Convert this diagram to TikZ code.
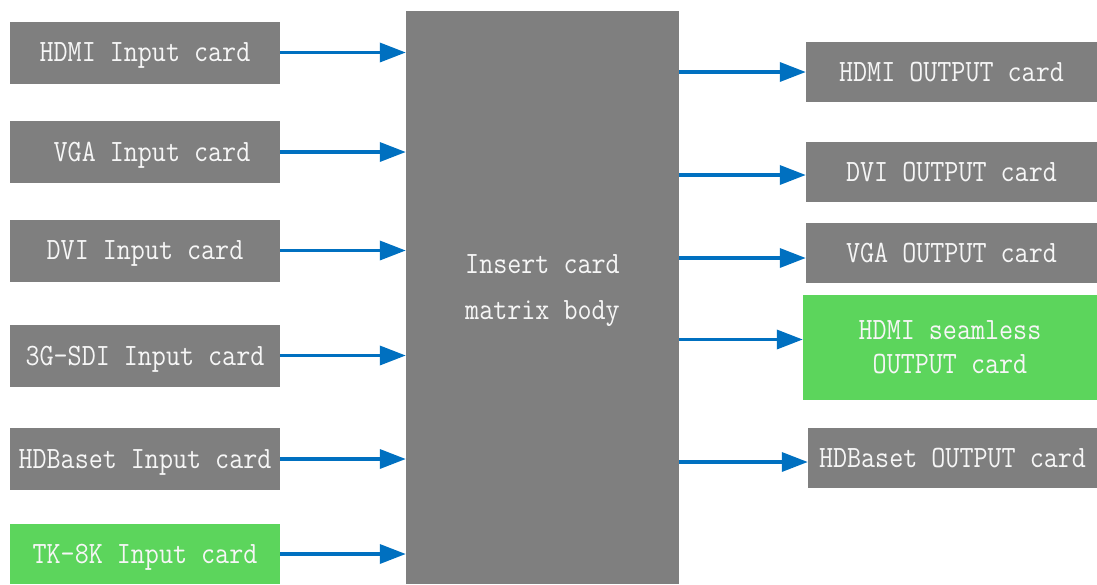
\documentclass[tikz,border=0pt]{standalone}
\usepackage{fontspec}
\newfontfamily\cardfont{Latin Modern Mono}[FakeStretch=0.88]
\usepackage{xcolor}
\definecolor{cardgray}{HTML}{7F7F7F}
\definecolor{cardgreen}{HTML}{5CD55C}
\definecolor{flowblue}{HTML}{0070C0}
\definecolor{cardtext}{HTML}{F6F6F6}
\usetikzlibrary{positioning,arrows.meta}
\tikzset{
  >={Triangle[length=26pt,width=19pt]},
  card/.style={fill=cardgray,text=cardtext,inner sep=0pt,align=center,text depth=0pt,
    font=\cardfont\fontsize{31}{34}\selectfont},
  incard/.style={card,minimum width=270,minimum height=62},
  outcard/.style={card,minimum width=291,minimum height=60},
  newcard/.style={fill=cardgreen},
  flow/.style={->,draw=flowblue,line width=3.5pt},
}

\begin{document}
\begin{tikzpicture}[x=1pt,y=-1pt]
  \useasboundingbox (0,0) rectangle (1097,584);
  % matrix body
  \node[card,minimum width=273,minimum height=573,
    label={[card,fill=none,font=\cardfont\fontsize{31}{46}\selectfont,yshift=10pt]center:Insert card\\matrix body}] (body) at (542.5,297.5) {};
  % input cards
  \node[incard] (hdmiin) at (145,52.5) {HDMI Input card};
  \node[incard] (vgain) at (145,152) {\hspace*{14pt}VGA Input card};
  \node[incard] (dviin) at (145,250.5) {DVI Input card};
  \node[incard] (sdiin) at (145,355.5) {3G-SDI Input card};
  \node[incard] (hdbin) at (145,459) {HDBaset Input card};
  \node[incard,newcard,minimum height=60] (tkin) at (145,554) {TK-8K Input card};
  % output cards
  \node[outcard] (hdmiout) at (951.5,72) {HDMI OUTPUT card};
  \node[outcard] (dviout) at (951.5,172) {DVI OUTPUT card};
  \node[outcard] (vgaout) at (951.5,253) {VGA OUTPUT card};
  \node[outcard,newcard,minimum width=294,minimum height=105] (seamout) at (950,347.5) {HDMI seamless\\OUTPUT card};
  \node[outcard,minimum width=289] (hdbout) at (952.5,458) {HDBaset OUTPUT card};
  % inputs into the body
  \foreach \src in {hdmiin,vgain,dviin,sdiin,hdbin,tkin}
    \draw[flow] (\src.east) -- (\src.east -| body.west);
  % body to outputs
  \draw[flow] (hdmiout.west -| body.east) -- (hdmiout.west);
  \draw[flow] ([yshift=-3pt]dviout.west -| body.east) -- ([yshift=-3pt]dviout.west);
  \draw[flow] ([yshift=-5pt]vgaout.west -| body.east) -- ([yshift=-5pt]vgaout.west);
  \draw[flow] ([yshift=8pt]seamout.west -| body.east) -- ([yshift=8pt]seamout.west);
  \draw[flow] ([yshift=-4pt]hdbout.west -| body.east) -- ([yshift=-4pt]hdbout.west);
\end{tikzpicture}
\end{document}
